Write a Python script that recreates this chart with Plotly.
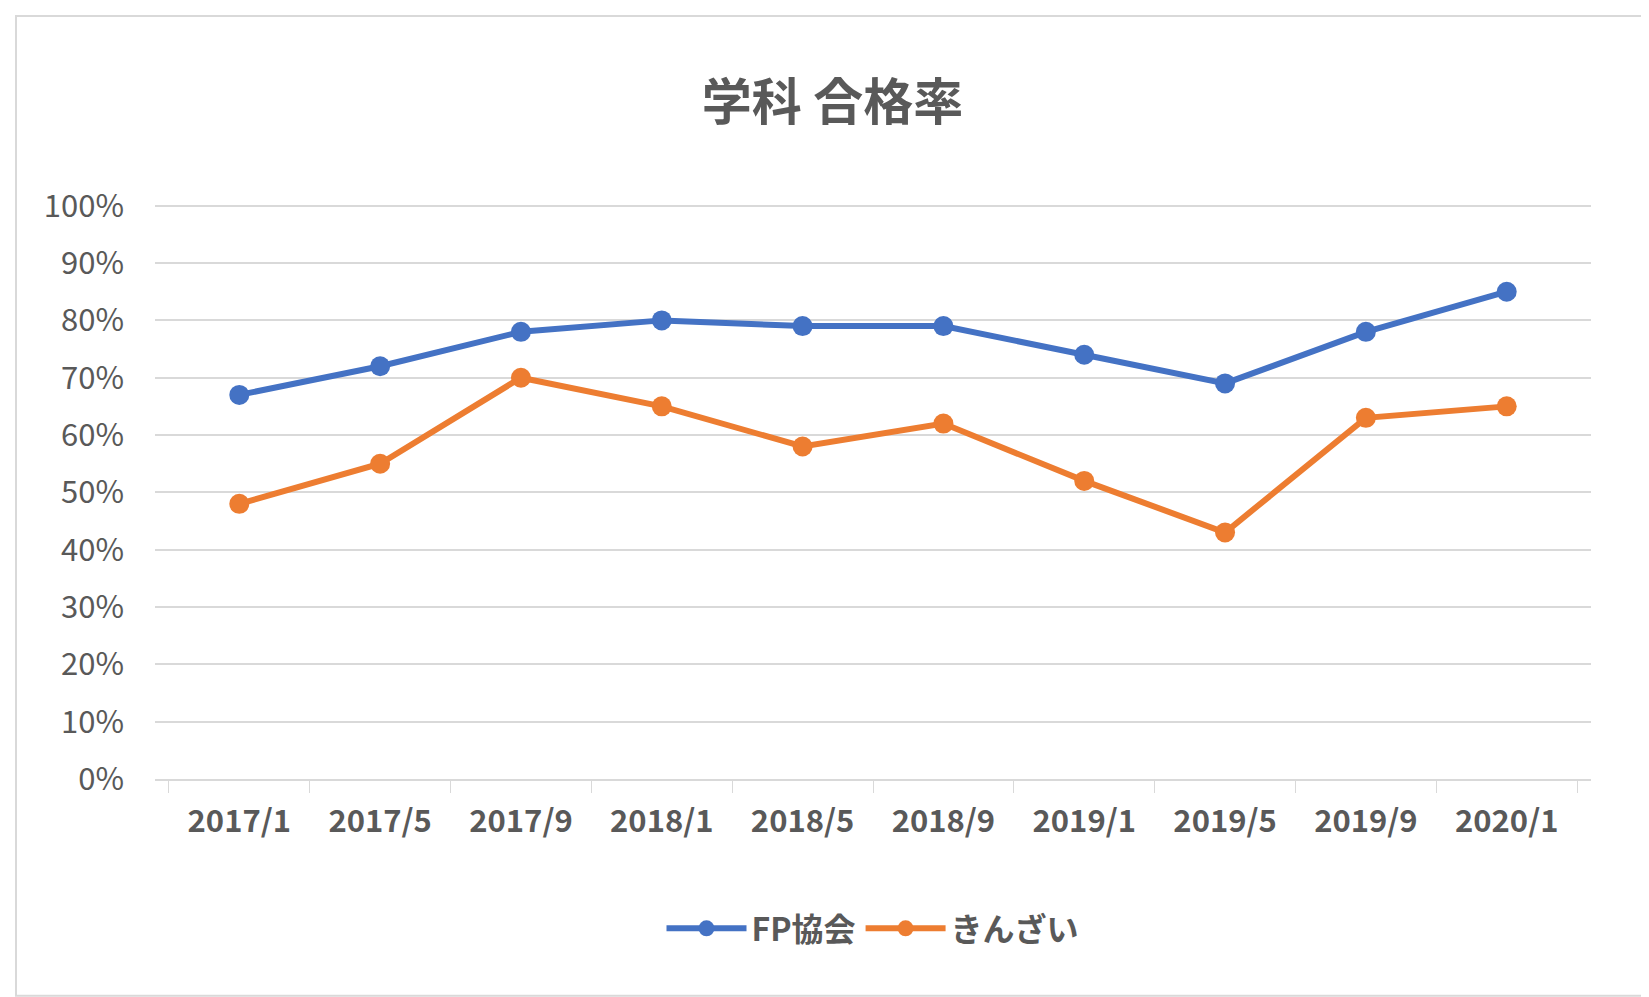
import plotly.graph_objects as go

categories = ["2017/1","2017/5","2017/9","2018/1","2018/5","2018/9","2019/1","2019/5","2019/9","2020/1"]
fp = [0.67,0.72,0.78,0.80,0.79,0.79,0.74,0.69,0.78,0.85]
kinzai = [0.48,0.55,0.70,0.65,0.58,0.62,0.52,0.43,0.63,0.65]

font = "Noto Sans CJK JP"
fig = go.Figure()
fig.add_trace(go.Scatter(x=categories, y=fp, name="<b>FP協会</b>", mode="lines+markers",
    line=dict(color="#4472C4", width=6), marker=dict(size=20, color="#4472C4")))
fig.add_trace(go.Scatter(x=categories, y=kinzai, name="<b>きんざい</b>", mode="lines+markers",
    line=dict(color="#ED7D31", width=6), marker=dict(size=20, color="#ED7D31")))
fig.update_layout(
    width=1649, height=997, paper_bgcolor="white", plot_bgcolor="white",
    font=dict(family=font, color="#595959", size=30),
    title=dict(text="<b>学科 合格率</b>", x=0.5, xanchor="center", yref="container", y=0.905, yanchor="middle",
               font=dict(size=50, color="#595959")),
    margin=dict(l=147, r=66, t=196, b=226),
    showlegend=True,
    legend=dict(orientation="h", x=0.5, xanchor="center", y=-0.26, yanchor="middle",
                font=dict(size=32, color="#595959"), itemwidth=80),
    shapes=[dict(type="rect", xref="paper", yref="paper", x0=-0.0968, x1=1.0397, y0=-0.377, y1=1.327,
                 line=dict(color="#D9D9D9", width=2))],
)
fig.update_xaxes(showgrid=False, showline=True, linecolor="#D9D9D9", linewidth=2,
                 ticks="outside", tickson="boundaries", ticklen=12, tickcolor="#D9D9D9",
                 tickfont=dict(size=31, color="#595959"), ticklabelstandoff=14,
                 tickprefix="<b>", ticksuffix="</b>")
fig.update_yaxes(range=[0, 1.003], tickvals=[i/10 for i in range(11)], tickformat=".0%",
                 showgrid=True, gridcolor="#D9D9D9", gridwidth=2,
                 zeroline=False, tickfont=dict(size=31, color="#595959"), ticklabelstandoff=30,
                 tickprefix="<b>", ticksuffix="</b>")
fig.write_html("out.html")
